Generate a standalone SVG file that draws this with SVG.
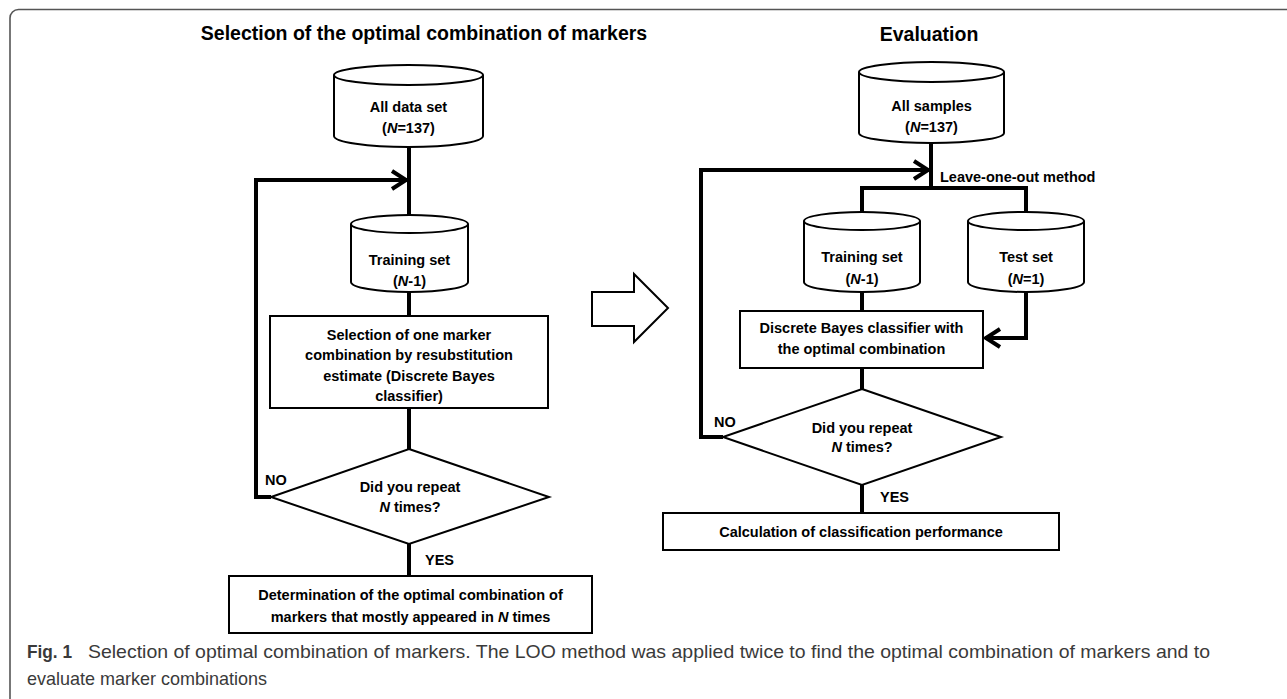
<svg xmlns="http://www.w3.org/2000/svg" width="1287" height="699" viewBox="0 0 1287 699">
<style>
.s{fill:#fff;stroke:#000;stroke-width:2}
.c{fill:none;stroke:#000;stroke-width:4;stroke-linejoin:miter}
.t{font-family:"Liberation Sans",Arial,sans-serif;font-weight:bold;font-size:14.5px;text-anchor:middle;fill:#000}
.h{font-family:"Liberation Sans",Arial,sans-serif;font-weight:bold;font-size:19.5px;text-anchor:middle;fill:#000}
.l{text-anchor:start}
.cap{font-family:"Liberation Sans",Arial,sans-serif;font-size:18.5px;fill:#3a3a3a}
</style>
<defs>
<marker id="chev" markerUnits="userSpaceOnUse" markerWidth="24" markerHeight="28" viewBox="-20 -14 24 28" refX="0" refY="0" orient="auto" overflow="visible">
<path d="M-15,-9 L-1,0 L-15,9" fill="none" stroke="#000" stroke-width="4"/>
</marker>
</defs>
<path d="M10,699 V18 A8.5,8.5 0 0 1 18.5,9.5 H1287" fill="none" stroke="#555" stroke-width="1.6"/>
<text class="h" x="424" y="40">Selection of the optimal combination of markers</text>
<text class="h" x="929" y="41">Evaluation</text>
<g id="connectors">
<line class="c" x1="409" y1="146" x2="409" y2="215"/>
<polyline class="c" points="271,497 256,497 256,180 407,180" marker-end="url(#chev)"/>
<line class="c" x1="409" y1="292" x2="409" y2="316"/>
<line class="c" x1="409" y1="408" x2="409" y2="449"/>
<line class="c" x1="409" y1="544" x2="409" y2="576"/>
<line class="c" x1="931" y1="143" x2="931" y2="188"/>
<polyline class="c" points="723,437 701,437 701,170 929,170" marker-end="url(#chev)"/>
<polyline class="c" points="862,213 862,188 1026,188 1026,213"/>
<line class="c" x1="862" y1="292" x2="862" y2="311"/>
<polyline class="c" points="1026,292 1026,338 985,338" marker-end="url(#chev)"/>
<line class="c" x1="862" y1="368" x2="862" y2="389"/>
<line class="c" x1="862" y1="485" x2="862" y2="513"/>
</g>
<g id="all-data-set">
<path class="s" d="M334,75 V136 A74.5,11 0 0 0 483,136 V75"/>
<ellipse class="s" cx="408.5" cy="75" rx="74.5" ry="10"/>
<text class="t" x="408.5" y="112">All data set</text>
<text class="t" x="408.5" y="133">(<tspan font-style="italic">N</tspan>=137)</text>
</g>
<g id="training-set-left">
<path class="s" d="M351,224 V282 A58.5,10 0 0 0 468,282 V224"/>
<ellipse class="s" cx="409.5" cy="224" rx="58.5" ry="9"/>
<text class="t" x="409.5" y="265">Training set</text>
<text class="t" x="409.5" y="286">(<tspan font-style="italic">N</tspan>-1)</text>
</g>
<g id="selection-box">
<rect class="s" x="270" y="316" width="278" height="92"/>
<text class="t" x="409" y="340">Selection of one marker</text>
<text class="t" x="409" y="360">combination by resubstitution</text>
<text class="t" x="409" y="381">estimate (Discrete Bayes</text>
<text class="t" x="409" y="401">classifier)</text>
</g>
<g id="repeat-left">
<polygon class="s" points="409,449 549,497 409,544 271,497"/>
<text class="t" x="410" y="492">Did you repeat</text>
<text class="t" x="410" y="512"><tspan font-style="italic">N</tspan> times?</text>
<text class="t l" x="265" y="485">NO</text>
<text class="t l" x="425" y="565">YES</text>
</g>
<g id="determination-box">
<rect class="s" x="229" y="576" width="363" height="57"/>
<text class="t" x="410.5" y="600">Determination of the optimal combination of</text>
<text class="t" x="410.5" y="622">markers that mostly appeared in <tspan font-style="italic">N</tspan> times</text>
</g>
<g id="big-arrow">
<polygon class="s" points="592,292 634,292 634,274 668,308 634,342 634,326 592,326"/>
</g>
<g id="all-samples">
<path class="s" d="M859,72 V133 A72.5,10 0 0 0 1004,133 V72"/>
<ellipse class="s" cx="931.5" cy="72" rx="72.5" ry="10"/>
<text class="t" x="931.5" y="111">All samples</text>
<text class="t" x="931.5" y="132">(<tspan font-style="italic">N</tspan>=137)</text>
<text class="t l" x="940" y="182">Leave-one-out method</text>
</g>
<g id="training-set-right">
<path class="s" d="M804,221 V282 A58,10 0 0 0 920,282 V221"/>
<ellipse class="s" cx="862" cy="221" rx="58" ry="9"/>
<text class="t" x="862" y="262">Training set</text>
<text class="t" x="862" y="284">(<tspan font-style="italic">N</tspan>-1)</text>
</g>
<g id="test-set">
<path class="s" d="M968,221 V282 A58,10 0 0 0 1084,282 V221"/>
<ellipse class="s" cx="1026" cy="221" rx="58" ry="9"/>
<text class="t" x="1026" y="262">Test set</text>
<text class="t" x="1026" y="284">(<tspan font-style="italic">N</tspan>=1)</text>
</g>
<g id="classifier-box">
<rect class="s" x="740" y="311" width="243" height="57"/>
<text class="t" x="861.5" y="333">Discrete Bayes classifier with</text>
<text class="t" x="861.5" y="354">the optimal combination</text>
</g>
<g id="repeat-right">
<polygon class="s" points="862,389 1001,437 862,485 723,437"/>
<text class="t" x="862" y="433">Did you repeat</text>
<text class="t" x="862" y="452"><tspan font-style="italic">N</tspan> times?</text>
<text class="t l" x="714" y="427">NO</text>
<text class="t l" x="880" y="502">YES</text>
</g>
<g id="calculation-box">
<rect class="s" x="663" y="513" width="396" height="37"/>
<text class="t" x="861" y="537">Calculation of classification performance</text>
</g>
<g id="caption">
<text class="cap" x="27" y="658" font-weight="bold" fill="#1a1a1a" textLength="45" lengthAdjust="spacingAndGlyphs">Fig. 1</text>
<text class="cap" x="88" y="658" textLength="1122" lengthAdjust="spacingAndGlyphs">Selection of optimal combination of markers. The LOO method was applied twice to find the optimal combination of markers and to</text>
<text class="cap" x="27" y="685" textLength="240" lengthAdjust="spacingAndGlyphs">evaluate marker combinations</text>
</g>
</svg>
